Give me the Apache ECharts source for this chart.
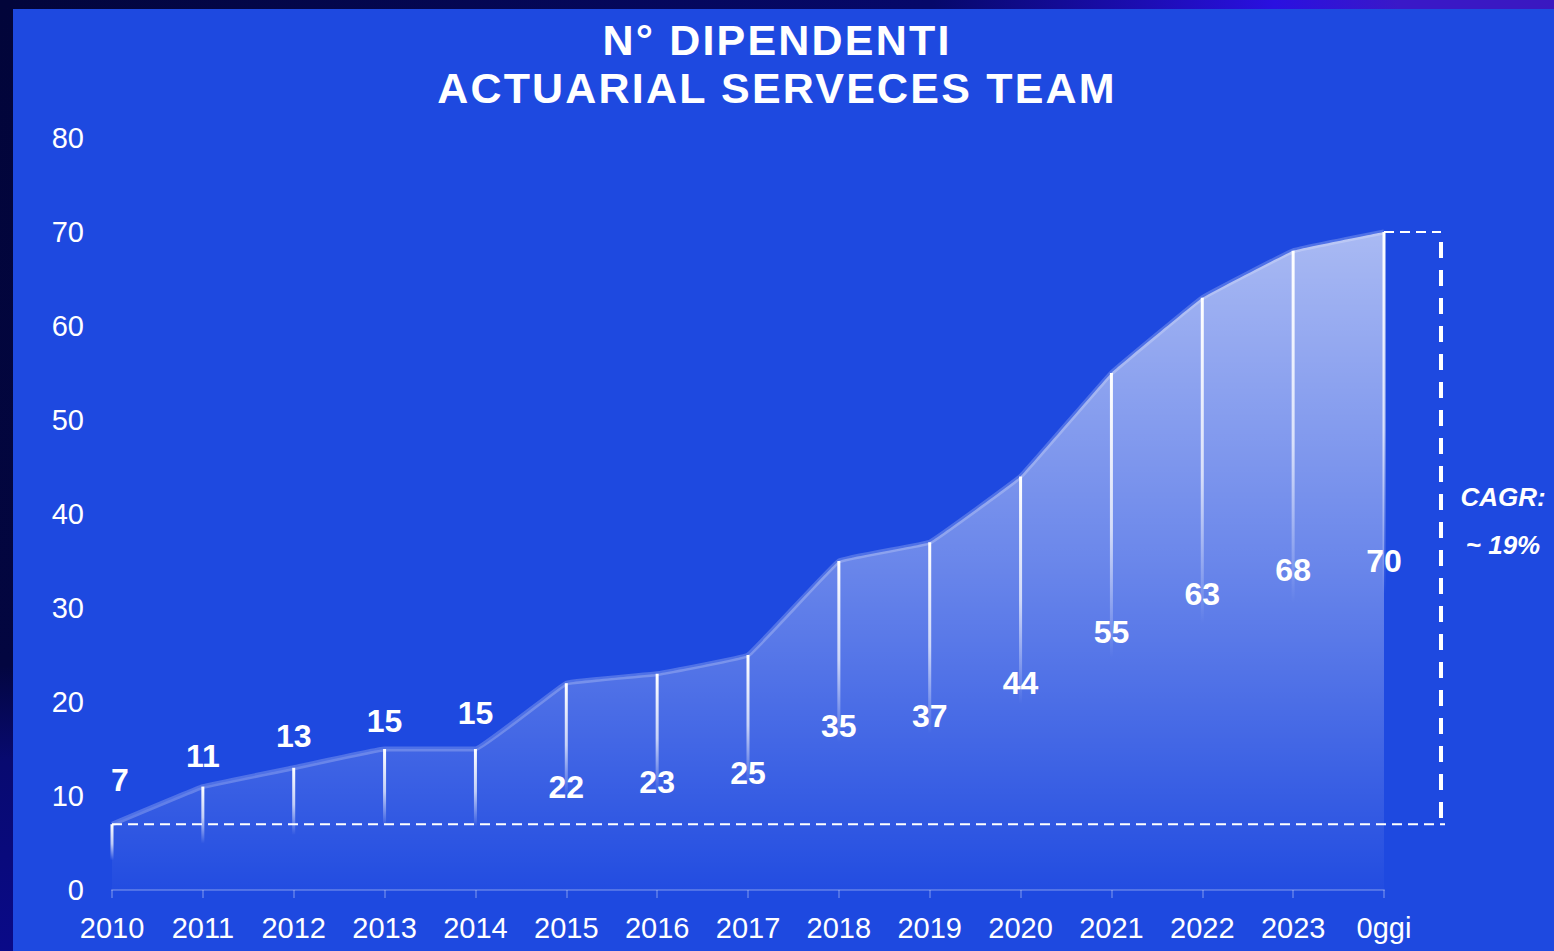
<!DOCTYPE html>
<html>
<head>
<meta charset="utf-8">
<script src="https://cdn.jsdelivr.net/npm/echarts@6/dist/echarts.min.js"></script>
<style>
html,body{margin:0;padding:0;background:#02053a;}
#c{width:1554px;height:951px;}
</style>
</head>
<body>
<div id="c"></div>
<script>
// ---- data ----
const categories = ['2010','2011','2012','2013','2014','2015','2016','2017','2018','2019','2020','2021','2022','2023','0ggi'];
const employees = [7, 11, 13, 15, 15, 22, 23, 25, 35, 37, 44, 55, 63, 68, 70];
const yTicks = [0, 10, 20, 30, 40, 50, 60, 70, 80];
const titleLines = ['N° DIPENDENTI', 'ACTUARIAL SERVECES TEAM'];
const cagrLines = ['CAGR:', '~ 19%'];

// ---- styles ----
const FONT = '"Liberation Sans", Arial, sans-serif';
const BG = '#1e49e0';
// labels above the point for the first years, centred on the line for later years
const topLabelDistance = [28, 15, 16, 12, 20];

const chart = echarts.init(document.getElementById('c'), null, { renderer: 'svg' });

const barData = employees.map((v, i) => {
  const item = { value: v };
  if (i < topLabelDistance.length) {
    item.label = { position: 'top', distance: topLabelDistance[i], offset: i === 0 ? [8, 0] : [0, 0] };
  }
  return item;
});

const option = {
  backgroundColor: '#02053a',
  animation: false,
  title: {
    text: titleLines.join('\n'),
    left: 'center',
    top: 11,
    textStyle: { color: '#fff', fontFamily: FONT, fontWeight: 'bold', fontSize: 43, lineHeight: 48 }
  },
  grid: { left: 112, right: 170, top: 138, bottom: 61, containLabel: false },
  xAxis: {
    type: 'category',
    data: categories,
    boundaryGap: false,
    axisLine: { lineStyle: { color: 'rgba(255,255,255,0.22)', width: 2 } },
    axisTick: { show: true, length: 8, lineStyle: { color: 'rgba(255,255,255,0.22)', width: 2 } },
    axisLabel: { color: '#fff', fontFamily: FONT, fontSize: 29, margin: 23 },
    splitLine: { show: false }
  },
  yAxis: {
    type: 'value',
    min: yTicks[0],
    max: yTicks[yTicks.length - 1],
    interval: yTicks[1] - yTicks[0],
    axisLine: { show: false },
    axisTick: { show: false },
    splitLine: { show: false },
    axisLabel: { color: '#fff', fontFamily: FONT, fontSize: 29, margin: 28, padding: [4, 0, 0, 0] }
  },
  series: [
    {
      type: 'line',
      data: employees,
      smooth: 0.06,
      symbol: 'none',
      lineStyle: { color: 'rgba(255,255,255,0.22)', width: 5 },
      areaStyle: {
        opacity: 1,
        color: new echarts.graphic.LinearGradient(0, 0, 0, 1, [
          { offset: 0, color: 'rgba(255,255,255,0.62)' },
          { offset: 0.5, color: 'rgba(255,255,255,0.34)' },
          { offset: 1, color: 'rgba(255,255,255,0.02)' }
        ])
      },
      z: 2
    },
    {
      type: 'bar',
      data: barData,
      barWidth: 3,
      itemStyle: {
        color: new echarts.graphic.LinearGradient(0, 0, 0, 1, [
          { offset: 0, color: 'rgba(255,255,255,1)' },
          { offset: 0.3, color: 'rgba(255,255,255,0.7)' },
          { offset: 0.55, color: 'rgba(255,255,255,0)' },
          { offset: 1, color: 'rgba(255,255,255,0)' }
        ])
      },
      label: {
        show: true,
        position: 'inside',
        color: '#fff',
        fontFamily: FONT,
        fontWeight: 'bold',
        fontSize: 32
      },
      z: 3
    }
  ],
  graphic: [
    {
      type: 'rect', z: -10, silent: true,
      shape: { x: 0, y: 0, width: 1554, height: 9 },
      style: { fill: new echarts.graphic.LinearGradient(0, 0, 1, 0, [
        { offset: 0, color: '#02053a' },
        { offset: 0.6, color: '#06086a' },
        { offset: 0.82, color: '#2a10e0' },
        { offset: 0.9, color: '#3a18c8' },
        { offset: 1, color: '#3a18c0' }
      ]) }
    },
    {
      type: 'rect', z: -10, silent: true,
      shape: { x: 0, y: 0, width: 13, height: 951 },
      style: { fill: new echarts.graphic.LinearGradient(0, 0, 0, 1, [
        { offset: 0, color: '#02053a' },
        { offset: 0.7, color: '#030640' },
        { offset: 0.8, color: '#080a70' },
        { offset: 1, color: '#0a0a88' }
      ]) }
    },
    {
      type: 'rect', z: -9, silent: true,
      shape: { x: 13, y: 9, width: 1541, height: 942 },
      style: { fill: BG }
    }
  ]
};
chart.setOption(option);

// CAGR bracket: dashed lines at first and last values, drawn through the chart's scales
const first = employees[0];
const last = employees[employees.length - 1];
const pFirstStart = chart.convertToPixel({ gridIndex: 0 }, [categories[0], first]);
const pFirstEnd = chart.convertToPixel({ gridIndex: 0 }, [categories[categories.length - 1], first]);
const pLast = chart.convertToPixel({ gridIndex: 0 }, [categories[categories.length - 1], last]);
const bx = pLast[0] + 57;

option.graphic.push(
  {
    type: 'line', z: 10, silent: true,
    shape: { x1: pFirstStart[0], y1: pFirstStart[1], x2: bx + 4, y2: pFirstEnd[1] },
    style: { stroke: '#fff', lineWidth: 2, lineDash: [10, 6] }
  },
  {
    type: 'line', z: 10, silent: true,
    shape: { x1: pLast[0], y1: pLast[1], x2: bx, y2: pLast[1] },
    style: { stroke: '#fff', lineWidth: 2, lineDash: [10, 6] }
  },
  {
    type: 'line', z: 10, silent: true,
    shape: { x1: bx, y1: pLast[1] + 10, x2: bx, y2: pFirstEnd[1] },
    style: { stroke: '#fff', lineWidth: 4, lineDash: [16, 12] }
  },
  {
    type: 'text', z: 10, silent: true,
    x: bx + 62, y: 497,
    style: { text: cagrLines[0], fill: '#fff', font: 'italic bold 26px ' + FONT, align: 'center', verticalAlign: 'middle' }
  },
  {
    type: 'text', z: 10, silent: true,
    x: bx + 62, y: 545,
    style: { text: cagrLines[1], fill: '#fff', font: 'italic bold 26px ' + FONT, align: 'center', verticalAlign: 'middle' }
  }
);
chart.setOption({ graphic: option.graphic });

// spaced-out title lettering (SVG renderer)
document.querySelectorAll('#c svg text').forEach(t => {
  if (titleLines.indexOf(t.textContent) >= 0) {
    t.setAttribute('letter-spacing', '2.2');
  }
});
</script>
</body>
</html>
